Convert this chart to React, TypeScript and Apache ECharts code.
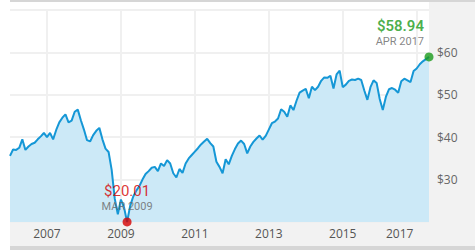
import React, { useEffect, useRef } from "react";
import * as echarts from "echarts";

// Monthly closes (USD), Jan 2006 .. Apr 2017 (last point = Apr 28 2017)
const closes2006 = [35.6, 37.1, 37.0, 37.5, 39.5, 37.0, 37.8, 38.4, 38.7, 39.5, 40.2, 41.0];
const closes2007 = [40.0, 41.0, 39.5, 41.7, 43.5, 44.6, 45.4, 43.5, 43.9, 46.0, 46.5, 44.0];
const closes2008 = [41.8, 39.3, 39.0, 40.5, 41.5, 42.2, 39.5, 37.3, 36.5, 32.3, 25.5, 21.8];
const closes2009 = [25.3, 23.5, 20.01, 23.8, 26.0, 27.4, 28.5, 30.0, 31.3, 32.0, 32.8, 33.0];
const closes2010 = [32.0, 33.8, 33.2, 34.6, 33.8, 31.5, 30.5, 32.5, 31.6, 33.8, 35.0, 35.8];
const closes2011 = [36.6, 37.4, 38.3, 39.0, 39.6, 38.6, 37.8, 34.2, 33.0, 31.5, 34.8, 33.6];
const closes2012 = [35.6, 37.2, 38.5, 39.2, 38.4, 36.2, 37.8, 38.9, 39.7, 40.4, 39.4, 40.3];
const closes2013 = [41.8, 43.3, 43.7, 44.4, 46.6, 46.0, 44.8, 47.5, 46.4, 48.6, 50.5, 51.0];
const closes2014 = [51.4, 49.2, 51.9, 51.1, 51.9, 53.3, 54.1, 54.0, 54.5, 51.5, 54.8, 55.7];
const closes2015 = [51.8, 52.4, 53.3, 53.6, 53.5, 53.8, 53.5, 51.0, 48.8, 51.8, 53.4, 52.8];
const closes2016 = [49.0, 46.4, 49.5, 51.3, 51.6, 51.2, 50.5, 53.2, 53.8, 53.4, 53.0, 55.6];
const closes2017 = [56.2, 57.2, 57.9, 58.4, 58.94];

const closes = [
  ...closes2006, ...closes2007, ...closes2008, ...closes2009, ...closes2010, ...closes2011,
  ...closes2012, ...closes2013, ...closes2014, ...closes2015, ...closes2016, ...closes2017,
];

const startYear = 2006;
const monthNames = ["JAN", "FEB", "MAR", "APR", "MAY", "JUN", "JUL", "AUG", "SEP", "OCT", "NOV", "DEC"];
const dates: string[] = closes.map((_, i) =>
  i < closes.length - 1
    ? `${startYear + Math.floor(i / 12)}-${String((i % 12) + 1).padStart(2, "0")}-01`
    : "2017-04-28"
);
const yTicks = [30, 40, 50, 60];
const labelledYears = [2007, 2009, 2011, 2013, 2015, 2017];

const fmtMonth = (d: string) => `${monthNames[parseInt(d.slice(5, 7), 10) - 1]} ${d.slice(0, 4)}`;

export default function App() {
  const ref = useRef<HTMLDivElement>(null);
  useEffect(() => {
    if (!ref.current) return;
    const chart = echarts.init(ref.current, null, { renderer: "svg" });
    const minVal = Math.min(...closes);
    const maxVal = Math.max(...closes);
    const minIdx = closes.indexOf(minVal);
    const maxIdx = closes.lastIndexOf(maxVal);
    const isYearTick = (i: number) => {
      const d = dates[i];
      return d.slice(5, 10) === "01-01" && labelledYears.includes(parseInt(d.slice(0, 4), 10));
    };
    const font = "'Open Sans', sans-serif";
    const aFont = "Roboto, sans-serif";
    chart.setOption({
      animation: false,
      textStyle: { fontFamily: font },
      grid: { left: 10, right: 46, top: 10, bottom: 28 },
      xAxis: {
        type: "category",
        data: dates,
        boundaryGap: false,
        axisLine: { show: false },
        axisTick: { show: false },
        splitLine: {
          show: true,
          interval: (i: number) => isYearTick(i),
          lineStyle: { color: "#f0f0f0", width: 2 },
        },
        axisLabel: {
          interval: (i: number) => isYearTick(i),
          margin: 5,
          color: "#555",
          fontSize: 12,
          fontFamily: font,
          formatter: (v: string) => {
            const y = v.slice(0, 4);
            return y === "2017" ? `{s|${y}}` : y;
          },
          rich: { s: { padding: [0, 34, 0, 0], color: "#555", fontSize: 12, fontFamily: font } },
        },
      },
      yAxis: {
        type: "value",
        position: "right",
        min: 20,
        max: 70,
        interval: 10,
        axisLine: { show: false },
        axisTick: { show: false },
        splitLine: { lineStyle: { color: "#f0f0f0", width: 2 } },
        axisLabel: {
          margin: 8,
          color: "#666",
          fontSize: 12,
          fontFamily: font,
          showMinLabel: false,
          showMaxLabel: false,
          formatter: (v: number) => (yTicks.includes(v) ? `$${v}` : ""),
        },
      },
      series: [
        {
          type: "line",
          data: closes,
          symbol: "none",
          clip: false,
          lineStyle: { color: "#1597d6", width: 2 },
          areaStyle: { color: "#cce9f7", opacity: 1 },
          z: 2,
        },
        {
          type: "scatter",
          clip: false,
          symbolSize: 9,
          z: 5,
          data: [
            {
              value: [minIdx, minVal],
              itemStyle: { color: "#d40000" },
              label: {
                show: true,
                position: "top",
                distance: 4,
                align: "center",
                formatter: `{p|$${minVal.toFixed(2)}}\n{d|${fmtMonth(dates[minIdx])}}`,
                rich: {
                  p: { color: "#d40000", fontSize: 15, fontFamily: aFont, lineHeight: 17, align: "center" },
                  d: { color: "#666", fontSize: 11, fontFamily: aFont, lineHeight: 14, align: "center" },
                },
              },
            },
            {
              value: [maxIdx, maxVal],
              itemStyle: { color: "#1a9a1a" },
              label: {
                show: true,
                position: "top",
                distance: 4,
                align: "right",
                offset: [-5, 0],
                formatter: `{p|$${maxVal.toFixed(2)}}\n{d|${fmtMonth(dates[maxIdx])}}`,
                rich: {
                  p: { color: "#1a9a1a", fontSize: 15, fontWeight: 600, fontFamily: aFont, lineHeight: 17, align: "right" },
                  d: { color: "#666", fontSize: 11, fontFamily: aFont, lineHeight: 14, align: "right" },
                },
              },
            },
          ],
        },
      ],
    });
    return () => chart.dispose();
  }, []);

  const panel = (s: React.CSSProperties) => <div style={{ position: "absolute", ...s }} />;

  return (
    <div style={{ position: "fixed", left: 0, top: 0, width: 475, height: 250, background: "#fff", overflow: "hidden" }}>
      {panel({ left: 429, top: 0, width: 46, height: 246, background: "#f2f2f2" })}
      {panel({ left: 10, top: 222, width: 465, height: 24, background: "#f2f2f2" })}
      {panel({ left: 10, top: 0, width: 465, height: 2, background: "#d6d6d6" })}
      {panel({ left: 10, top: 246, width: 465, height: 4, background: "#d6d6d6" })}
      <div ref={ref} style={{ position: "absolute", left: 0, top: 0, width: 475, height: 250 }} />
    </div>
  );
}
